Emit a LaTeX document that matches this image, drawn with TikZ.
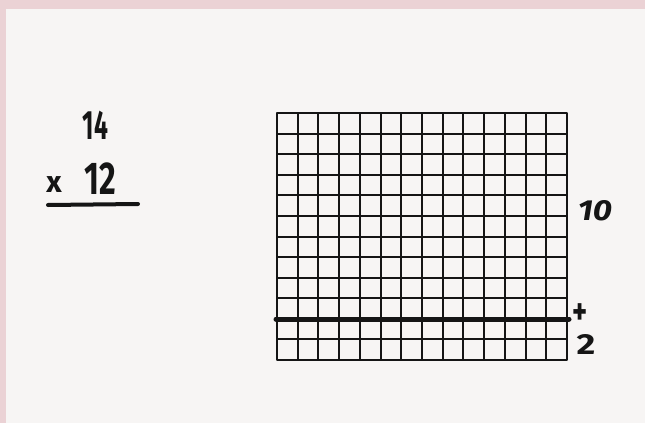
\documentclass[tikz,border=0pt]{standalone}
\usepackage{fontspec}
\usepackage{graphicx}
\setsansfont{Fira Sans}
\usepackage{tikz}
\usetikzlibrary{positioning}

\definecolor{papel}{HTML}{F7F5F4}
\definecolor{margem}{HTML}{EBD2D5}
\definecolor{tinta}{HTML}{151515}

\tikzset{
    mao/.style={font=\sffamily\bfseries, text=tinta, inner sep=0pt},
    fina/.style={draw=tinta, line width=1.4pt},
}

\begin{document}
\begin{tikzpicture}[x=1pt, y=-1pt, line cap=round, line join=round]
        % Variáveis base
        \def\gradeX{277}     % canto esquerdo da grelha
        \def\gradeY{113}     % topo da grelha
        \def\largura{290}    % 14 colunas
        \def\altura{247}     % 12 linhas

        % Página (margem rosa e papel)
        \fill[margem] (0,0) rectangle (645,423);
        \fill[papel] (6,9) rectangle (645,423);
        \useasboundingbox (0,0) rectangle (645,423);

        % Conta escrita à mão
        \node[mao, font=\sffamily\bfseries\fontsize{41}{41}\selectfont] (catorze) at (95.5,125) {\scalebox{0.6}[1]{14}};
        \node[mao, font=\sffamily\bfseries\fontsize{30}{30}\selectfont] (vezes) at (54,185) {x};
        \node[mao, font=\sffamily\bfseries\fontsize{46}{46}\selectfont] (doze) at (100,179) {\scalebox{0.7}[1]{12}};
        \coordinate (traco1) at (48,205);
        \coordinate (traco2) at (138,204);
        \draw[tinta, line width=4pt] (traco1) -- (traco2);

        % Grelha 14 x 12
        \begin{scope}[shift={(\gradeX,\gradeY)}]
            \foreach \cx in {21,41,62,83,104,124,145,166,186,207,228,249,269}
                \draw[fina] (\cx, 0) -- (\cx, \altura);
            \foreach \ly in {21,41,62,82,103,124,144,165,185,206,226}
                \draw[fina] (0, \ly) -- (\largura, \ly);
            \draw[tinta, line width=2.6pt] (0,0) rectangle (\largura,\altura);
            % Separação 10 + 2
            \draw[tinta, line width=5pt] (-1, 206) -- (\largura+2, 206);
        \end{scope}

        % Legendas à direita
        \node[mao, font=\sffamily\bfseries\fontsize{29}{29}\selectfont] (dez) at (595,211) {\textit{\scalebox{1.15}[1]{10}}};
        \node[mao, font=\sffamily\bfseries\fontsize{38}{38}\selectfont] (mais) at (580.5,314) {\scalebox{0.75}[1]{+}};
        \node[mao, font=\sffamily\bfseries\fontsize{29}{29}\selectfont] (dois) at (586,344) {\scalebox{1.25}[1]{2}};
\end{tikzpicture}
\end{document}
